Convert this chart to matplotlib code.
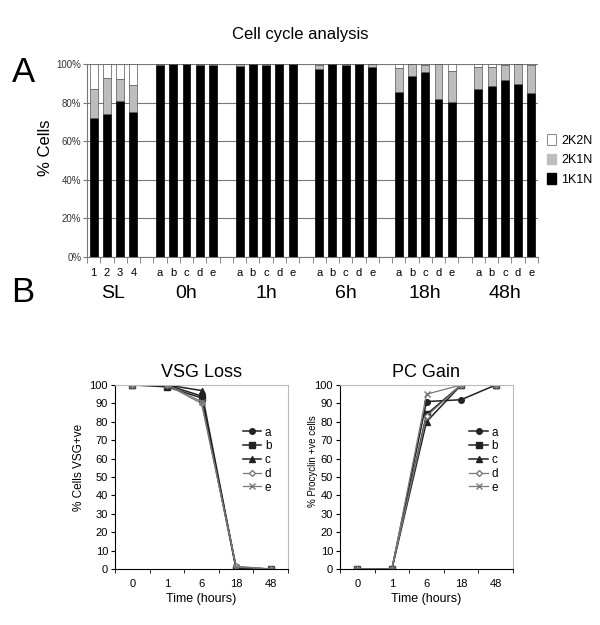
import numpy as np
import matplotlib.pyplot as plt
from matplotlib.patches import Patch

plt.rcParams['font.family'] = ['Liberation Sans', 'DejaVu Sans']

# --- pannello A: analisi del ciclo cellulare (% cellule) ---
sl_labels = ["1", "2", "3", "4"]
timepoints = ["0h", "1h", "6h", "18h", "48h"]
samples = ["a", "b", "c", "d", "e"]

sl_1k1n = [72, 74, 81, 75]
sl_2k1n = [15, 19, 11, 14]
sl_2k2n = [13, 7, 8, 11]

# una lista per timepoint, campioni a..e
t_1k1n = [
    [99.5, 100, 100, 99.5, 99.3],
    [99, 100, 99.5, 100, 100],
    [97.4, 100, 99.5, 100, 98.6],
    [85.3, 94, 95.7, 81.9, 80.5],
    [87.1, 88.4, 91.6, 89.5, 84.8],
]
t_2k1n = [
    [0.5, 0, 0, 0.5, 0.7],
    [1, 0, 0.5, 0, 0],
    [2.1, 0, 0.5, 0, 1.4],
    [12.8, 6, 3.8, 18.1, 16.1],
    [11.2, 10.2, 7.9, 10.5, 14.7],
]
t_2k2n = [
    [0, 0, 0, 0, 0],
    [0, 0, 0, 0, 0],
    [0.5, 0, 0, 0, 0],
    [1.9, 0, 0.5, 0, 3.4],
    [1.7, 1.4, 0.5, 0, 0.5],
]

# --- pannello B ---
hours = ["0", "1", "6", "18", "48"]
vsg = {
    "a": [100, 100, 94, 1, 0],
    "b": [100, 99, 93, 0, 0],
    "c": [100, 100, 97, 0.5, 0],
    "d": [100, 100, 90, 1.5, 0],
    "e": [100, 100, 91, 1, 0],
}
pc = {
    "a": [0, 0, 91, 92, 100],
    "b": [0, 0, 84, 100, 100],
    "c": [0, 0, 80, 100, 100],
    "d": [0, 0, 83, 100, 100],
    "e": [0, 0, 95, 100, 100],
}

fig = plt.figure(figsize=(6, 6.25), dpi=100)
W, H = 600, 625


def px_axes(x0, y0, x1, y1):
    return fig.add_axes([x0 / W, 1 - y1 / H, (x1 - x0) / W, (y1 - y0) / H])


# costruzione posizioni delle categorie (uno slot vuoto tra gruppi)
pos, lab, b1, b2, b3 = [], [], [], [], []
group_centers = []
x = 0
for i, s in enumerate(sl_labels):
    pos.append(x); lab.append(s)
    b1.append(sl_1k1n[i]); b2.append(sl_2k1n[i]); b3.append(sl_2k2n[i])
    x += 1
group_centers.append(("SL", (pos[0] + pos[-1]) / 2))
for g, tp in enumerate(timepoints):
    x += 1
    start = x
    for i, s in enumerate(samples):
        pos.append(x); lab.append(s)
        b1.append(t_1k1n[g][i]); b2.append(t_2k1n[g][i]); b3.append(t_2k2n[g][i])
        x += 1
    group_centers.append((tp, (start + x - 1) / 2))
ncat = x
b1 = np.array(b1); b2 = np.array(b2); b3 = np.array(b3)

ax = px_axes(87, 64, 538, 257)
w = 0.6
ax.bar(pos, b1, w, color="black", edgecolor="black", lw=0.5, zorder=3)
ax.bar(pos, b2, w, bottom=b1, color="#bdbdbd", edgecolor="#555555", lw=0.5, zorder=3)
ax.bar(pos, b3, w, bottom=b1 + b2, color="white", edgecolor="#555555", lw=0.5, zorder=3)
ax.set_xlim(-0.5, ncat - 0.5)
ax.set_ylim(0, 100)
ax.set_yticks(range(0, 101, 20))
ax.set_yticklabels([f"{v}%" for v in range(0, 101, 20)], fontsize=7, color="#333333")
ax.yaxis.grid(True, color="#777777", lw=0.8, zorder=0)
ax.set_xticks(pos)
ax.set_xticklabels(lab, fontsize=8)
ax.tick_params(axis="x", length=0, pad=8)
ax.set_xticks(np.arange(-0.5, ncat, 1), minor=True)
ax.tick_params(axis="x", which="minor", length=4, color="#777777")
ax.tick_params(axis="y", length=3, color="#777777", pad=1)
for sp in ["top", "right"]:
    ax.spines[sp].set_visible(False)
ax.spines["left"].set_color("#777777")
ax.spines["bottom"].set_color("#777777")
ax.set_ylabel("% Cells", fontsize=12)
ax.yaxis.set_label_coords(-0.075, 0.565)
for name, cx in group_centers:
    ax.text(cx, -0.19, name, transform=ax.get_xaxis_transform(),
            ha="center", va="center", fontsize=14)

handles = [Patch(facecolor="white", edgecolor="#777777", lw=0.6, label="2K2N"),
           Patch(facecolor="#bdbdbd", edgecolor="#bdbdbd", label="2K1N"),
           Patch(facecolor="black", edgecolor="black", label="1K1N")]
fig.legend(handles=handles, loc="center left", bbox_to_anchor=(547 / W, 1 - 160 / H),
           frameon=False, fontsize=9, handlelength=0.7, handleheight=0.9,
           handletextpad=0.45, labelspacing=0.55, borderpad=0, borderaxespad=0)

fig.text(300 / W, 1 - 34 / H, "Cell cycle analysis", ha="center", va="center", fontsize=12)
fig.text(24 / W, 1 - 73 / H, "A", ha="center", va="center", fontsize=25)
fig.text(23 / W, 1 - 293 / H, "B", ha="center", va="center", fontsize=25)

styles = {
    "a": dict(color="#222222", marker="o", ms=4, lw=1.1, mfc="#222222"),
    "b": dict(color="#222222", marker="s", ms=4.5, lw=1.1, mfc="#222222"),
    "c": dict(color="#222222", marker="^", ms=4.5, lw=1.1, mfc="#222222"),
    "d": dict(color="#777777", marker="D", ms=3, lw=0.9, mfc="white"),
    "e": dict(color="#777777", marker="x", ms=4, lw=0.9),
}


def line_panel(ax, data, title, ylabel, ylab_size, ylab_xy, leg_x):
    xs = np.arange(len(hours))
    for k in samples:
        ax.plot(xs, data[k], label=k, **styles[k])
    ax.set_xlim(-0.5, len(hours) - 0.5)
    ax.set_ylim(0, 100)
    ax.set_yticks(range(0, 101, 10))
    ax.tick_params(axis="y", labelsize=8, length=3, pad=2)
    ax.set_xticks(xs)
    ax.set_xticklabels(hours, fontsize=8)
    ax.tick_params(axis="x", length=0, pad=7)
    ax.set_xticks(np.arange(-0.5, len(hours), 1), minor=True)
    ax.tick_params(axis="x", which="minor", length=3)
    for sp in ["top", "right"]:
        ax.spines[sp].set_color("#bbbbbb")
    ax.set_title(title, fontsize=13, pad=6)
    ax.set_xlabel("Time (hours)", fontsize=9, labelpad=3)
    ax.set_ylabel(ylabel, fontsize=ylab_size)
    ax.yaxis.set_label_coords(*ylab_xy)
    ax.legend(loc="upper left", bbox_to_anchor=(leg_x, 0.8), frameon=False,
              fontsize=8.5, handlelength=1.6, handletextpad=0.3,
              labelspacing=0.15, borderaxespad=0)


ax1 = px_axes(115, 385, 288, 569)
line_panel(ax1, vsg, "VSG Loss", "% Cells VSG+ve", 8.5, (-0.173, 0.552), 0.71)
ax2 = px_axes(340, 385, 513, 569)
line_panel(ax2, pc, "PC Gain", "% Procyclin +ve cells", 7, (-0.125, 0.587), 0.72)

fig.savefig("out.png", dpi=100)
